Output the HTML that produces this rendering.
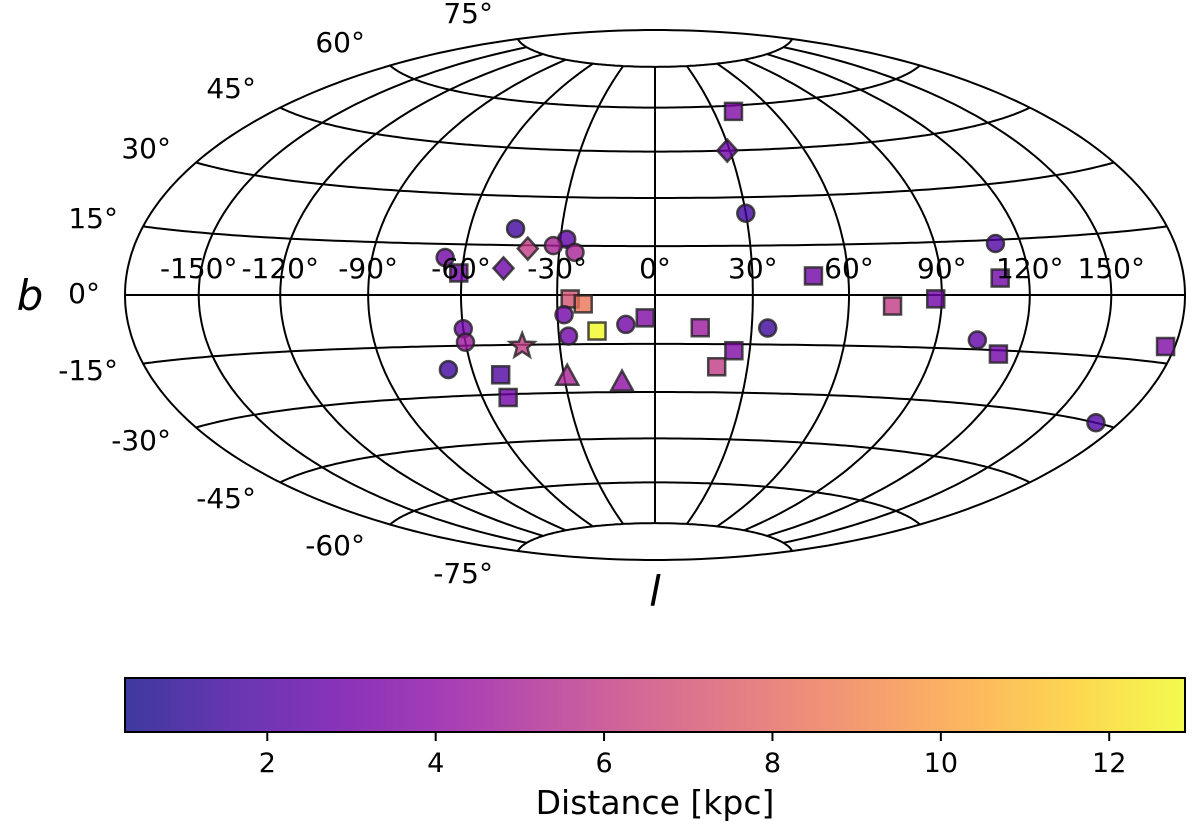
<!DOCTYPE html>
<html><head><meta charset="utf-8"><style>
html,body{margin:0;padding:0;background:#fff;}
svg{display:block;font-family:"DejaVu Sans","Liberation Sans",sans-serif;}
</style></head><body>
<svg id="chart" width="1200" height="827" viewBox="0 0 1200 827" xmlns="http://www.w3.org/2000/svg">
<defs>
<linearGradient id="plasma" x1="0" x2="1" y1="0" y2="0">
<stop offset="0" stop-color="#0d0887"/><stop offset="0.1" stop-color="#41049d"/><stop offset="0.2" stop-color="#6a00a8"/><stop offset="0.3" stop-color="#8f0da4"/><stop offset="0.4" stop-color="#b12a90"/><stop offset="0.5" stop-color="#cc4778"/><stop offset="0.6" stop-color="#e16462"/><stop offset="0.7" stop-color="#f2844b"/><stop offset="0.8" stop-color="#fca636"/><stop offset="0.9" stop-color="#fcce25"/><stop offset="1" stop-color="#f0f921"/>
</linearGradient>
</defs>
<g id="grid"></g>
<g id="marks"></g>
<g id="labels"></g>
<text x="30" y="310" font-size="42" font-style="italic" text-anchor="middle">b</text>
<text x="655" y="606" font-size="42" font-style="italic" text-anchor="middle">l</text>
<rect x="125" y="678" width="1060" height="54" fill="url(#plasma)" opacity="0.8"/>
<rect x="125" y="678" width="1060" height="54" fill="none" stroke="#000" stroke-width="2"/>
<g id="cbticks"></g>
<text x="655" y="814" font-size="33" text-anchor="middle">Distance [kpc]</text>
</svg>
<script>
const lons = [40,29,30,-45,-40,-28,-32,-25,-66,-61,-47,111,49,110,-26,-22,88,74,-28,-3,-9,14,-18,-60,35,-27,-60,-42,104,176,25,113,20,-68,-51,-29,-11,-51,170];
const lats = [58,45,25,20,14,17,15,13,11,6.5,8,14,5.7,4.6,-1.2,-2.7,-1.1,-3.2,-6,-7,-9,-10,-11,-10,-10,-12.5,-14,-15.4,-12.4,-11.4,-17,-16,-22,-22,-24,-25,-27,-31,-30];
const dists = [3.5,3,1.5,1.5,6,2.5,5,5,3,3,3,2,3,3,7,8.5,3,6,3,3.5,3,4.5,13,3,1.5,3,4.5,6,2.5,3.5,3.5,3,6,1.5,2,5,4,3,2];
const shapes = ['s','d','o','o','d','o','o','o','o','s','d','o','s','s','s','s','s','s','o','s','o','s','s','o','o','o','o','*','o','s','s','s','s','o','s','^','^','s','o'];
const cbTicks = [2,4,6,8,10,12];
const lonTicks = [-150,-120,-90,-60,-30,0,30,60,90,120,150];
const latTicks = [75,60,45,30,15,0,-15,-30,-45,-60,-75];
const dMin = 0.31, dMax = 12.9;

const NS='http://www.w3.org/2000/svg';
const CX=655, CY=295, RX=530, RY=265;
function proj(l,b){
  const L=l*Math.PI/180, B=b*Math.PI/180;
  const d=Math.sqrt(1+Math.cos(B)*Math.cos(L/2));
  const X=2*Math.SQRT2*Math.cos(B)*Math.sin(L/2)/d;
  const Y=Math.SQRT2*Math.sin(B)/d;
  return [CX+X/(2*Math.SQRT2)*RX, CY-Y/Math.SQRT2*RY];
}
const stops=[[13,8,135],[65,4,157],[106,0,168],[143,13,164],[177,42,144],[204,71,120],[225,100,98],[242,132,75],[252,166,54],[252,206,37],[240,249,33]];
function plasma(t){
  t=Math.max(0,Math.min(1,t))*10; const i=Math.min(9,Math.floor(t)), f=t-i;
  const a=stops[i],b=stops[i+1];
  return 'rgb('+a.map((v,k)=>Math.round(v+(b[k]-v)*f)).join(',')+')';
}
function el(tag,attrs,parent){const e=document.createElementNS(NS,tag);for(const k in attrs)e.setAttribute(k,attrs[k]);parent.appendChild(e);return e;}
const grid=document.getElementById('grid');
function pathOf(pts){return 'M'+pts.map(p=>p[0].toFixed(1)+','+p[1].toFixed(1)).join('L');}
for(let b=-75;b<=75;b+=15){
  const pts=[];for(let l=-180;l<=180;l+=2)pts.push(proj(l,b));
  const p=el('path',{d:pathOf(pts),fill:'none',stroke:'#000','stroke-width':2},grid);
  
  
}
for(let l=-150;l<=150;l+=30){
  const pts=[];for(let b=-75;b<=75;b+=1)pts.push(proj(l,b));
  const p=el('path',{d:pathOf(pts),fill:'none',stroke:'#000','stroke-width':2},grid);
  
  
}
{
  const pts=[];for(let b=-90;b<=90;b+=1)pts.push(proj(180,b));for(let b=90;b>=-90;b-=1)pts.push(proj(-180,b));
  const p=el('path',{d:pathOf(pts)+'Z',fill:'none',stroke:'#000','stroke-width':2},grid);
  
  
}
const marks=document.getElementById('marks');
for(let i=0;i<lons.length;i++){
  const [x,y]=proj(lons[i],lats[i]);
  const c=plasma((dists[i]-dMin)/(dMax-dMin));
  const st={fill:c,'fill-opacity':0.8,stroke:'#222','stroke-opacity':0.8,'stroke-width':2.5};
  let m;
  const s=shapes[i];
  if(s==='o'){m=el('circle',Object.assign({cx:x,cy:y,r:8.5},st),marks);}
  else if(s==='s'){m=el('rect',Object.assign({x:x-8.5,y:y-8.5,width:17,height:17},st),marks);}
  else if(s==='d'){m=el('polygon',Object.assign({points:`${x},${y-11} ${x+10},${y} ${x},${y+11} ${x-10},${y}`},st),marks);}
  else if(s==='^'){m=el('polygon',Object.assign({points:`${x},${y-12} ${x+11},${y+8} ${x-11},${y+8}`},st),marks);}
  else {const pts=[];for(let k=0;k<10;k++){const r=k%2?5.5:13;const a=-Math.PI/2+k*Math.PI/5;pts.push((x+r*Math.cos(a)).toFixed(1)+','+(y+r*Math.sin(a)).toFixed(1));}
    m=el('polygon',Object.assign({points:pts.join(' ')},st),marks);}
  
  
}
const lab=document.getElementById('labels');
for(const l of lonTicks){
  const [x]=proj(l,0);
  const t=el('text',{x:x,y:278,'font-size':28,'text-anchor':'middle'},lab);
  t.textContent=l+'°';
  
  
}
const latLabX=[493,365,256,171,118,100,118,171,256,365,493];
const latLabY=[13,42,88,148,218,293,370,440,498,545,573];
latTicks.forEach((b,i)=>{
  const t=el('text',{x:latLabX[i],y:latLabY[i]+10,'font-size':28,'text-anchor':'end'},lab);
  t.textContent=b+'°';
  
  
});
const cb=document.getElementById('cbticks');
for(const v of cbTicks){
  const x=125+(v-dMin)/(dMax-dMin)*1060;
  const ln=el('line',{x1:x,x2:x,y1:732,y2:741,stroke:'#000','stroke-width':2},cb);
  
  
  const t=el('text',{x:x,y:772,'font-size':27,'text-anchor':'middle'},cb);
  t.textContent=v;
  
  
}
</script>
</body></html>
